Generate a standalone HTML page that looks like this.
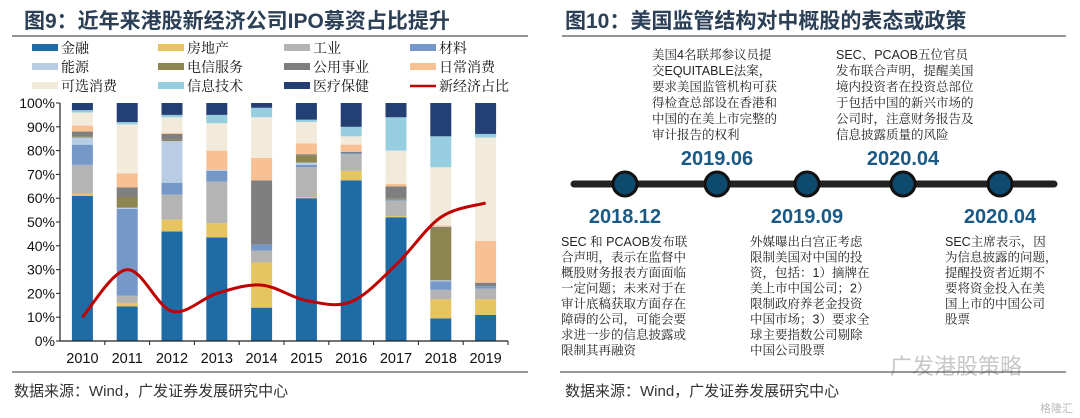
<!DOCTYPE html>
<html><head><meta charset="utf-8"><style>
html,body{margin:0;padding:0;background:#fff;}
svg{display:block;font-family:"Liberation Sans","Noto Sans CJK SC",sans-serif;}
.serif{font-family:"Liberation Sans","Noto Serif CJK SC",serif;}
</style></head><body>
<svg id="s" width="1080" height="418" viewBox="0 0 1080 418" xmlns="http://www.w3.org/2000/svg">
<text x="24" y="28" font-size="21" font-weight="bold" fill="#2b3f57">图9：近年来港股新经济公司IPO募资占比提升</text>
<line x1="12" y1="36" x2="528" y2="36" stroke="#555" stroke-width="1.2"/>
<g id="legend" class="serif"></g>
<g id="chart"></g>
<line x1="12" y1="372" x2="528" y2="372" stroke="#333" stroke-width="1"/>
<text x="14" y="396" font-size="15" fill="#333">数据来源：Wind，广发证券发展研究中心</text>

<text x="565" y="28" font-size="21" font-weight="bold" fill="#2b3f57">图10：美国监管结构对中概股的表态或政策</text>
<line x1="562" y1="36" x2="1066" y2="36" stroke="#555" stroke-width="1.2"/>
<line x1="574" y1="184" x2="1054" y2="184" stroke="#222" stroke-width="7" stroke-linecap="round"/>
<g fill="#0d4a6e" stroke="#111" stroke-width="3">
<circle cx="625" cy="184" r="12"/>
<circle cx="717" cy="184" r="12"/>
<circle cx="807" cy="184" r="12"/>
<circle cx="903" cy="184" r="12"/>
<circle cx="1000" cy="184" r="12"/>
</g>
<g font-size="20" font-weight="bold" fill="#1a5a84" text-anchor="middle">
<text x="717" y="165">2019.06</text>
<text x="903" y="165">2020.04</text>
<text x="625" y="223">2018.12</text>
<text x="807" y="223">2019.09</text>
<text x="1000" y="223">2020.04</text>
</g>
<g font-size="12.5" fill="#222" class="serif">
<text x="652" y="59"><tspan x="652">美国4名联邦参议员提</tspan><tspan x="652" dy="16">交EQUITABLE法案，</tspan><tspan x="652" dy="16">要求美国监管机构可获</tspan><tspan x="652" dy="16">得检查总部设在香港和</tspan><tspan x="652" dy="16">中国的在美上市完整的</tspan><tspan x="652" dy="16">审计报告的权利</tspan></text>
<text x="836" y="59"><tspan x="836">SEC、PCAOB五位官员</tspan><tspan x="836" dy="16">发布联合声明，提醒美国</tspan><tspan x="836" dy="16">境内投资者在投资总部位</tspan><tspan x="836" dy="16">于包括中国的新兴市场的</tspan><tspan x="836" dy="16">公司时，注意财务报告及</tspan><tspan x="836" dy="16">信息披露质量的风险</tspan></text>
<text x="561" y="246"><tspan x="561">SEC 和 PCAOB发布联</tspan><tspan x="561" dy="15.5">合声明，表示在监督中</tspan><tspan x="561" dy="15.5">概股财务报表方面面临</tspan><tspan x="561" dy="15.5">一定问题；未来对于在</tspan><tspan x="561" dy="15.5">审计底稿获取方面存在</tspan><tspan x="561" dy="15.5">障碍的公司，可能会要</tspan><tspan x="561" dy="15.5">求进一步的信息披露或</tspan><tspan x="561" dy="15.5">限制其再融资</tspan></text>
<text x="750" y="246"><tspan x="750">外媒曝出白宫正考虑</tspan><tspan x="750" dy="15.5">限制美国对中国的投</tspan><tspan x="750" dy="15.5">资，包括：1）摘牌在</tspan><tspan x="750" dy="15.5">美上市中国公司；2）</tspan><tspan x="750" dy="15.5">限制政府养老金投资</tspan><tspan x="750" dy="15.5">中国市场；3）要求全</tspan><tspan x="750" dy="15.5">球主要指数公司剔除</tspan><tspan x="750" dy="15.5">中国公司股票</tspan></text>
<text x="945" y="246"><tspan x="945">SEC主席表示，因</tspan><tspan x="945" dy="15.5">为信息披露的问题，</tspan><tspan x="945" dy="15.5">提醒投资者近期不</tspan><tspan x="945" dy="15.5">要将资金投入在美</tspan><tspan x="945" dy="15.5">国上市的中国公司</tspan><tspan x="945" dy="15.5">股票</tspan></text>
</g>
<text x="890" y="374" font-size="22" fill="#c8c8c8">广发港股策略</text>
<line x1="560" y1="372" x2="1066" y2="372" stroke="#333" stroke-width="1"/>
<text x="565" y="396" font-size="15" fill="#333">数据来源：Wind，广发证券发展研究中心</text>
<text x="1040" y="412" font-size="11" fill="#bbb">格隆汇</text>
</svg>
<script>
const years=["2010","2011","2012","2013","2014","2015","2016","2017","2018","2019"];
const sectors=["金融","房地产","工业","材料","能源","电信服务","公用事业","日常消费","可选消费","信息技术","医疗保健"];
const colors=["#1f6ba6","#e6c560","#b4b4b4","#7598c8","#b8cce4","#8c8550","#7f7f7f","#f8c193","#f2ebdc","#97cedf","#243f73"];
const finance=[61,14.5,46,43.5,14,60,67.5,52,9.5,11];
const realEstate=[1,1.5,5,6,19,0.5,4,0.5,8,6.5];
const industrial=[12,3,10.5,17.5,5,12.5,7,6.5,4,4.5];
const materials=[8.5,36.5,5,4.5,2.5,1,0.5,0.5,3.5,1];
const energy=[3,0.5,17.5,0.5,0,1,0,0,0.5,0];
const telecom=[0.5,4.5,0.5,0,0,3,0,0.5,22,0];
const utilities=[2,4,2.5,0,27,0.5,0.5,5,0.5,1.5];
const staples=[2.5,6,0.5,8,9.5,4.5,3,1,0.5,17.5];
const discretionary=[5.5,20.5,6.5,11.5,17,9,3.5,14,24.5,43.5];
const infoTech=[1,1,1,3.5,4,1,4,14,13,1.5];
const health=[3,8,5,5,2,7,10,6,14,13];
const newEconomy=[10,30,12.5,20,23.5,17,16.5,32,52,58];
const yTicks=[0,10,20,30,40,50,60,70,80,90,100];
const series=[finance,realEstate,industrial,materials,energy,telecom,utilities,staples,discretionary,infoTech,health];
const NS="http://www.w3.org/2000/svg";
const X0=60,X1=508,Y0=341,Y1=103;
const bw=(X1-X0)/years.length;
const xc=i=>X0+bw*(i+0.5);
const yv=v=>Y0-(v/100)*(Y0-Y1);
function mk(t,a,p){const e=document.createElementNS(NS,t);for(const k in a)e.setAttribute(k,a[k]);p.appendChild(e);return e;}
const ch=document.getElementById('chart');
years.forEach((yr,i)=>{
  let cum=0;
  series.forEach((s,k)=>{
    const v=s[i];
    if(v>0){
      const r=mk('rect',{x:xc(i)-10.5,y:yv(cum+v),width:21,height:yv(cum)-yv(cum+v),fill:colors[k]},ch);
      
      
    }
    cum+=v;
  });
  const t=mk('text',{x:xc(i),y:363,'font-size':14.5,'text-anchor':'middle',fill:'#111'},ch);
  t.textContent=yr;
  
  
  const tk=mk('line',{x1:X0+bw*(i+1),x2:X0+bw*(i+1),y1:Y0,y2:Y0+4,stroke:'#222'},ch);
  
  
});
yTicks.forEach(v=>{
  const t=mk('text',{x:X0-5,y:yv(v)+5,'font-size':14,'text-anchor':'end',fill:'#111'},ch);
  t.textContent=v+'%';
  
  
  const l=mk('line',{x1:X0-4,x2:X0,y1:yv(v),y2:yv(v),stroke:'#222'},ch);
  
  
});
const ax=mk('path',{d:`M${X0} ${Y1}V${Y0}H${X1}`,fill:'none',stroke:'#222','stroke-width':1.2},ch);


const pts=newEconomy.map((v,i)=>[xc(i),yv(v)]);
let d=`M${pts[0][0]} ${pts[0][1]}`;
for(let i=0;i<pts.length-1;i++){
  const p0=pts[Math.max(0,i-1)],p1=pts[i],p2=pts[i+1],p3=pts[Math.min(pts.length-1,i+2)];
  const c1=[p1[0]+(p2[0]-p0[0])/6,p1[1]+(p2[1]-p0[1])/6];
  const c2=[p2[0]-(p3[0]-p1[0])/6,p2[1]-(p3[1]-p1[1])/6];
  d+=`C${c1[0]} ${c1[1]} ${c2[0]} ${c2[1]} ${p2[0]} ${p2[1]}`;
}
const ln=mk('path',{d:d,fill:'none',stroke:'#c00000','stroke-width':3},ch);


const lg=document.getElementById('legend');
const labels=sectors.concat(["新经济占比"]);
labels.forEach((lab,k)=>{
  const col=k%4,row=Math.floor(k/4);
  const x=32+col*126,y=48+row*19;
  if(k<11){
    const r=mk('rect',{x:x,y:y-4,width:26,height:7,fill:colors[k]},lg);
    
    
  } else {
    const r=mk('line',{x1:x,x2:x+26,y1:y,y2:y,stroke:'#c00000','stroke-width':2.5},lg);
    
    
  }
  const t=mk('text',{x:x+29,y:y+5,'font-size':14,fill:'#111'},lg);
  t.textContent=lab;
  
  
});
</script>
</body></html>
